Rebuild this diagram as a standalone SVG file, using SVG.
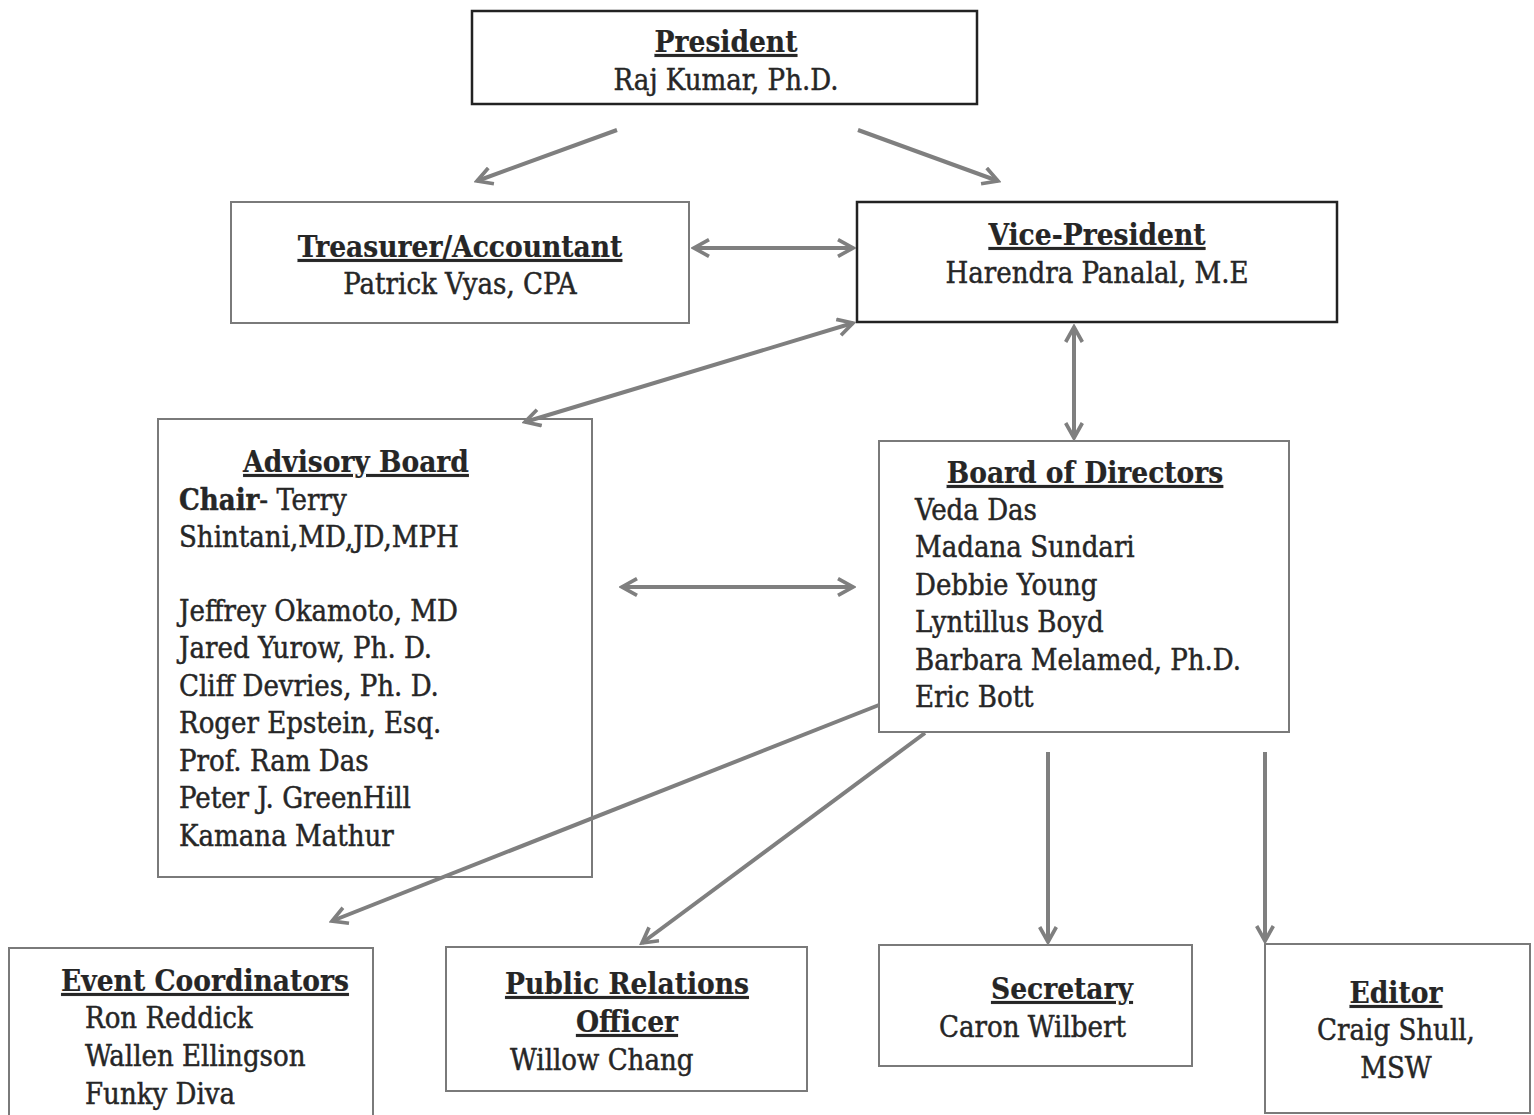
<svg xmlns="http://www.w3.org/2000/svg" width="1534" height="1115" viewBox="0 0 1534 1115">
<style>
  text { font-family: "DejaVu Serif Condensed", "DejaVu Serif", "Liberation Serif", serif; font-size: 29px; fill: #262626; stroke: #262626; stroke-width: 0.45px; }
  .t { font-weight: bold; text-decoration: underline; font-size: 29.5px; stroke-width: 0.2px; }
  .c { text-anchor: middle; }
  .b { font-weight: bold; }
  .box { fill: #ffffff; stroke: #7a7a7a; stroke-width: 2; }
  .dark { stroke: #222222; stroke-width: 2.5; }
  .conn line { stroke: #7f7f7f; stroke-width: 4; fill: none; }
</style>
<defs>
  <marker id="ah" viewBox="0 0 12 12" refX="10" refY="6" markerWidth="5" markerHeight="5" orient="auto-start-reverse" markerUnits="strokeWidth">
    <path d="M1,1 L10,6 L1,11" fill="none" stroke="#7f7f7f" stroke-width="2.2" stroke-linejoin="miter"/>
  </marker>
</defs>
<rect width="1534" height="1115" fill="#ffffff"/>

<g id="president">
  <rect class="box dark" x="472" y="11" width="505" height="93"/>
  <text class="t c" x="726" y="52">President</text>
  <text class="c" x="726" y="90">Raj Kumar, Ph.D.</text>
</g>
<g id="treasurer">
  <rect class="box" x="231" y="202" width="458" height="121"/>
  <text class="t c" x="460" y="257">Treasurer/Accountant</text>
  <text class="c" x="460" y="294">Patrick Vyas, CPA</text>
</g>
<g id="vice-president">
  <rect class="box dark" x="857" y="202" width="480" height="120"/>
  <text class="t c" x="1097" y="245">Vice-President</text>
  <text class="c" x="1097" y="283">Harendra Panalal, M.E</text>
</g>
<g id="advisory-board">
  <rect class="box" x="158" y="419" width="434" height="458"/>
  <text class="t c" x="356" y="472">Advisory Board</text>
  <text x="179" y="510"><tspan class="b">Chair</tspan>- Terry</text>
  <text x="179" y="547">Shintani,MD,JD,MPH</text>
  <text x="179" y="621">Jeffrey Okamoto, MD</text>
  <text x="179" y="658">Jared Yurow, Ph. D.</text>
  <text x="179" y="696">Cliff Devries, Ph. D.</text>
  <text x="179" y="733">Roger Epstein, Esq.</text>
  <text x="179" y="771">Prof. Ram Das</text>
  <text x="179" y="808">Peter J. GreenHill</text>
  <text x="179" y="846">Kamana Mathur</text>
</g>
<g id="board-of-directors">
  <rect class="box" x="879" y="441" width="410" height="291"/>
  <text class="t c" x="1085" y="483">Board of Directors</text>
  <text x="915" y="520">Veda Das</text>
  <text x="915" y="557">Madana Sundari</text>
  <text x="915" y="595">Debbie Young</text>
  <text x="915" y="632">Lyntillus Boyd</text>
  <text x="915" y="670">Barbara Melamed, Ph.D.</text>
  <text x="915" y="707">Eric Bott</text>
</g>
<g id="event-coordinators">
  <rect class="box" x="9" y="948" width="364" height="180"/>
  <text class="t c" x="205" y="991">Event Coordinators</text>
  <text x="85" y="1028">Ron Reddick</text>
  <text x="85" y="1066">Wallen Ellingson</text>
  <text x="85" y="1104">Funky Diva</text>
</g>
<g id="public-relations">
  <rect class="box" x="446" y="947" width="361" height="144"/>
  <text class="t c" x="627" y="994">Public Relations</text>
  <text class="t c" x="627" y="1032">Officer</text>
  <text x="510" y="1070">Willow Chang</text>
</g>
<g id="secretary">
  <rect class="box" x="879" y="945" width="313" height="121"/>
  <text class="t c" x="1062" y="999">Secretary</text>
  <text x="939" y="1037">Caron Wilbert</text>
</g>
<g id="editor">
  <rect class="box" x="1265" y="944" width="265" height="169"/>
  <text class="t c" x="1396" y="1003">Editor</text>
  <text class="c" x="1396" y="1040">Craig Shull,</text>
  <text class="c" x="1396" y="1078">MSW</text>
</g>

<g id="connectors" class="conn">
  <line x1="617" y1="130" x2="477" y2="181" marker-end="url(#ah)"/>
  <line x1="858" y1="130" x2="998" y2="181" marker-end="url(#ah)"/>
  <line x1="694" y1="248" x2="853" y2="248" marker-start="url(#ah)" marker-end="url(#ah)"/>
  <line x1="853" y1="323" x2="525" y2="422" marker-start="url(#ah)" marker-end="url(#ah)"/>
  <line x1="1074" y1="327" x2="1074" y2="438" marker-start="url(#ah)" marker-end="url(#ah)"/>
  <line x1="622" y1="587" x2="853" y2="587" marker-start="url(#ah)" marker-end="url(#ah)"/>
  <line x1="879" y1="705" x2="332" y2="921" marker-end="url(#ah)"/>
  <line x1="925" y1="733" x2="642" y2="943" marker-end="url(#ah)"/>
  <line x1="1048" y1="752" x2="1048" y2="942" marker-end="url(#ah)"/>
  <line x1="1265" y1="752" x2="1265" y2="941" marker-end="url(#ah)"/>
</g>
</svg>
